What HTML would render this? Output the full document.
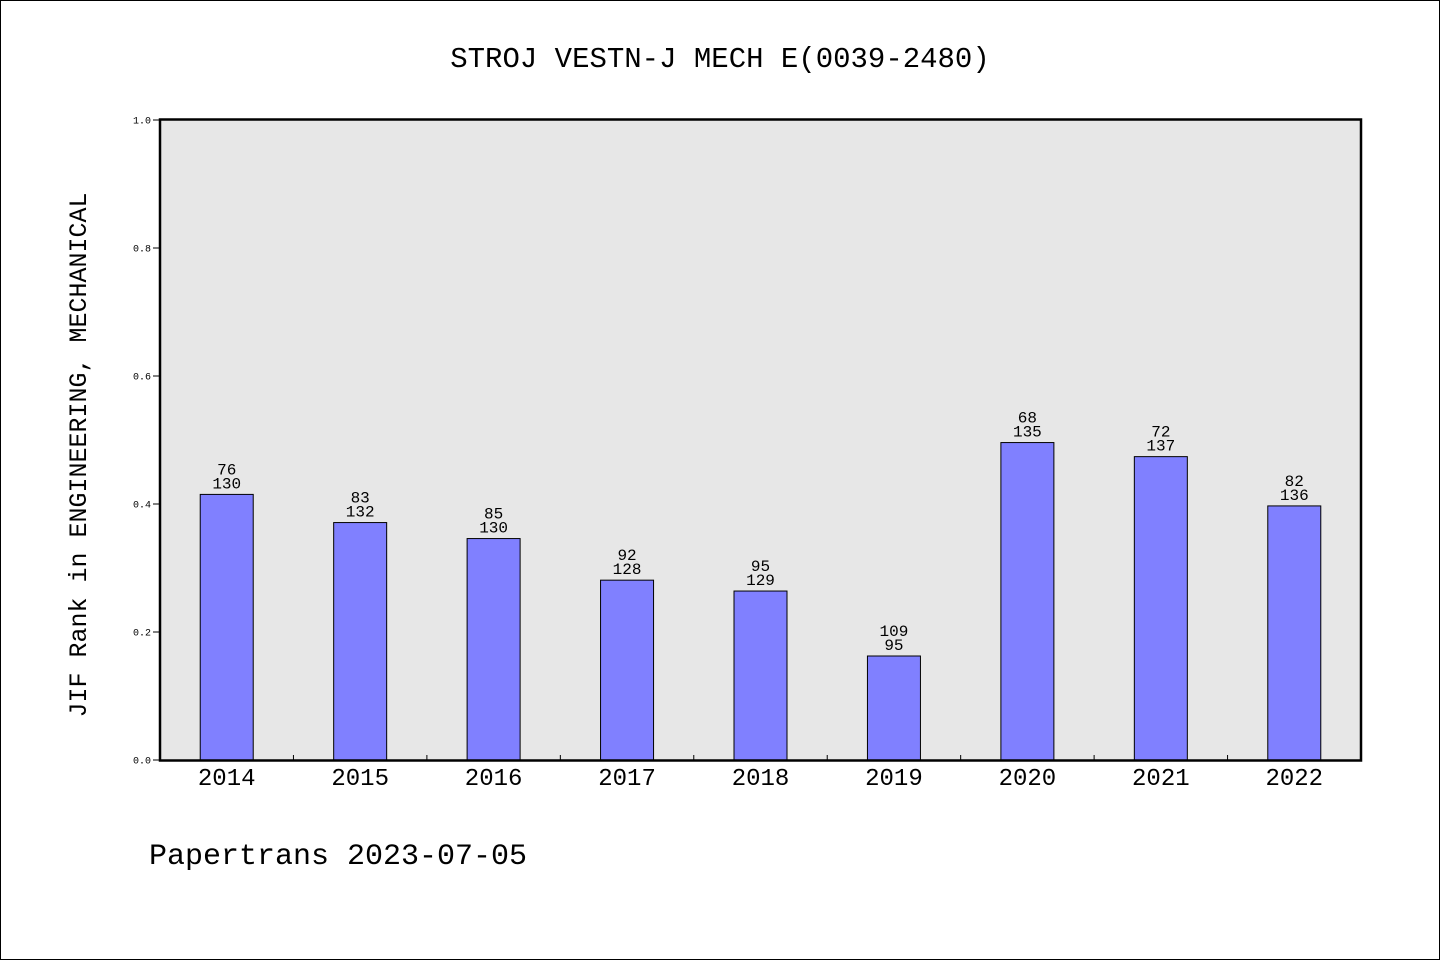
<!DOCTYPE html>
<html><head><meta charset="utf-8"><style>
html,body{margin:0;padding:0;background:#fff}
svg{display:block}
text{font-family:"WenQuanYi Zen Hei","Liberation Mono",monospace;fill:#000}
</style></head><body>
<svg id="chart" width="1440" height="960" xmlns="http://www.w3.org/2000/svg">
<rect x="0.5" y="0.5" width="1439" height="959" fill="#fff" stroke="#000"/>
<text x="720" y="67" font-size="29" text-anchor="middle">STROJ VESTN-J MECH E(0039-2480)</text>
<rect x="160" y="119.5" width="1201" height="640.5" fill="#e7e7e7"/>
<g id="bars"></g>
<g id="yaxis"></g>
<g id="xaxis"></g>
<rect x="160" y="119.5" width="1201" height="641" fill="none" stroke="#000" stroke-width="2.5"/>
<text transform="translate(86,455) rotate(-90)" font-size="25" text-anchor="middle">JIF Rank in ENGINEERING, MECHANICAL</text>
<text x="149" y="864" font-size="30">Papertrans 2023-07-05</text>
</svg>
<script>
const categories=["2014","2015","2016","2017","2018","2019","2020","2021","2022"];
const values=[0.415,0.371,0.346,0.281,0.264,0.1625,0.496,0.474,0.397];
const rankLabels=["76","83","85","92","95","109","68","72","82"];
const totalLabels=["130","132","130","128","129","95","135","137","136"];
const yTicks=[0,0.2,0.4,0.6,0.8,1.0];
const NS="http://www.w3.org/2000/svg";
const x0=160,x1=1361,yb=760,yt=120;
const bw=(x1-x0)/categories.length;
function xC(i){return x0+bw*(i+0.5);}
function yS(v){return yb-(yb-yt)*v;}
function mk(tag,attrs,parent){const e=document.createElementNS(NS,tag);for(const k in attrs)e.setAttribute(k,attrs[k]);parent.appendChild(e);return e;}
const bars=document.getElementById('bars'),ya=document.getElementById('yaxis'),xa=document.getElementById('xaxis');
categories.forEach((c,i)=>{
  const cx=xC(i),top=yS(values[i]);
  const r=mk('rect',{x:cx-26.5,y:top,width:53,height:yb-top,fill:'#8080ff',stroke:'#000','stroke-width':1},bars);
  
  
  const t1=mk('text',{x:cx,y:top-20,'font-size':16,'text-anchor':'middle'},bars);t1.textContent=rankLabels[i];
  
  
  const t2=mk('text',{x:cx,y:top-6,'font-size':16,'text-anchor':'middle'},bars);t2.textContent=totalLabels[i];
  
  
  const xl=mk('text',{x:cx,y:785,'font-size':24,'text-anchor':'middle'},xa);xl.textContent=c;
  
  
  if(i>0){const tk=mk('line',{x1:x0+bw*i,x2:x0+bw*i,y1:yb,y2:yb-5,stroke:'#000'},xa);
    
    }
});
yTicks.forEach(v=>{
  const y=yS(v);
  const l=mk('line',{x1:x0-7,x2:x0,y1:y,y2:y,stroke:'#000'},ya);
  
  
  const t=mk('text',{x:x0-9,y:y+3.5,'font-size':10,'text-anchor':'end'},ya);t.textContent=v.toFixed(1);
  
  
});
</script>
</body></html>
